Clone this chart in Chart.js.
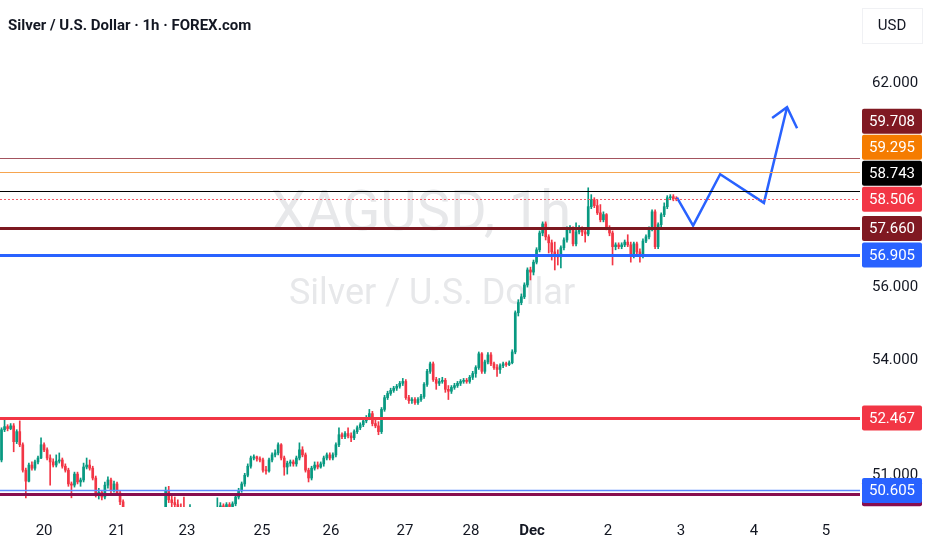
<!DOCTYPE html>
<html lang="en">
<head>
<meta charset="UTF-8">
<title>Silver / U.S. Dollar · 1h · FOREX.com</title>
<script src="https://cdn.jsdelivr.net/npm/chart.js"></script>
<style>
    html, body {
        margin: 0;
        padding: 0;
        background: #ffffff;
    }
    #wrap {
        width: 932px;
        height: 550px;
        position: relative;
    }
</style>
</head>
<body>
<div id="wrap"><canvas id="chart"></canvas></div>

<script>
// ---- data (1h candles, oldest first) ----
const firstOpen = 51.38;
const closes = [
    52.16, 52.24, 52.19, 52.26, 51.85, 52.11, 51.77, 51.12, 50.84, 51.25,
    51.17, 51.33, 51.43, 51.77, 51.64, 51.43, 51.33, 51.25, 51.35, 51.38,
    51.22, 51.12, 50.77, 50.74, 51.02, 50.82, 50.87, 51.20, 51.25, 51.17,
    50.92, 50.49, 50.56, 50.44, 50.74, 50.87, 50.61, 50.77, 50.54, 50.32,
    50.07, 49.87, 49.72, 49.62, 49.77, 49.67, 49.52, 49.62, 49.48, 49.57,
    49.38, 49.48, 49.62, 49.77, 50.61, 50.37, 50.30, 50.25, 50.17, 50.07,
    50.02, 49.87, 50.00, 49.82, 49.72, 49.62, 49.52, 49.62, 49.57, 49.72,
    49.87, 50.07, 50.22, 50.17, 50.25, 50.20, 50.27, 50.44, 50.61, 50.77,
    50.99, 51.22, 51.43, 51.46, 51.41, 51.38, 51.12, 51.10, 51.38, 51.51,
    51.56, 51.77, 51.43, 51.20, 51.30, 51.33, 51.28, 51.43, 51.64, 51.51,
    51.12, 50.92, 51.17, 51.25, 51.20, 51.28, 51.43, 51.51, 51.43, 51.51,
    51.77, 52.03, 51.98, 52.06, 52.00, 51.95, 52.11, 52.21, 52.29, 52.39,
    52.47, 52.58, 52.32, 52.26, 52.11, 52.69, 53.00, 53.11, 53.19, 53.25,
    53.30, 53.38, 53.43, 53.00, 52.92, 52.95, 52.87, 52.95, 53.03, 53.35,
    53.70, 53.90, 53.48, 53.38, 53.43, 53.46, 53.22, 53.17, 53.27, 53.32,
    53.38, 53.43, 53.46, 53.43, 53.54, 53.64, 53.80, 54.17, 53.70, 53.95,
    54.14, 53.90, 53.80, 53.75, 53.85, 53.90, 53.88, 53.93, 54.22, 55.29,
    55.57, 55.73, 56.06, 56.48, 56.42, 56.70, 57.05, 57.53, 57.79, 57.42,
    57.25, 56.99, 56.88, 56.85, 57.11, 57.33, 57.62, 57.65, 57.22, 57.56,
    57.65, 57.56, 57.50, 58.29, 58.49, 58.32, 58.11, 57.91, 58.06, 57.68,
    57.53, 57.14, 57.19, 57.14, 57.19, 57.27, 57.19, 56.88, 57.22, 56.99,
    56.88, 57.30, 57.42, 57.65, 58.14, 57.14, 57.77, 58.06, 58.29, 58.55,
    58.58, 58.52, 58.506
];
const highs = [
    52.21, 52.47, 52.29, 52.32, 52.32, 52.16, 52.39, 51.82, 51.17, 51.30,
    51.33, 51.38, 51.48, 51.95, 51.82, 51.69, 51.51, 51.41, 51.51, 51.56,
    51.43, 51.28, 51.17, 50.82, 51.07, 51.07, 50.92, 51.30, 51.43, 51.38,
    51.22, 50.97, 50.66, 50.61, 50.82, 50.95, 50.92, 50.84, 50.82, 50.61,
    50.37, 50.12, 49.97, 49.82, 49.87, 49.85, 49.72, 49.72, 49.67, 49.67,
    49.62, 49.62, 49.75, 49.92, 50.69, 50.71, 50.47, 50.44, 50.37, 50.27,
    50.44, 50.12, 50.25, 50.07, 49.92, 49.82, 49.72, 49.75, 49.77, 49.87,
    50.07, 50.42, 50.30, 50.27, 50.30, 50.30, 50.32, 50.49, 50.66, 50.82,
    51.04, 51.28, 51.48, 51.51, 51.48, 51.46, 51.43, 51.22, 51.43, 51.56,
    51.64, 51.82, 51.80, 51.48, 51.35, 51.38, 51.38, 51.48, 51.82, 51.72,
    51.56, 51.17, 51.22, 51.33, 51.33, 51.33, 51.48, 51.56, 51.56, 51.56,
    51.82, 52.21, 52.08, 52.11, 52.21, 52.08, 52.16, 52.26, 52.34, 52.45,
    52.53, 52.69, 52.64, 52.42, 52.37, 52.74, 53.06, 53.17, 53.25, 53.30,
    53.35, 53.43, 53.51, 53.48, 53.06, 53.00, 53.00, 53.00, 53.09, 53.40,
    53.75, 53.95, 53.95, 53.54, 53.51, 53.54, 53.51, 53.32, 53.32, 53.38,
    53.43, 53.48, 53.51, 53.51, 53.59, 53.70, 53.85, 54.22, 54.20, 54.00,
    54.20, 54.20, 53.95, 53.88, 53.90, 53.95, 53.95, 53.98, 54.28, 55.34,
    55.65, 55.81, 56.12, 56.54, 56.56, 56.76, 57.11, 57.59, 57.85, 57.85,
    57.48, 57.33, 57.27, 57.05, 57.16, 57.39, 57.71, 57.74, 57.71, 57.82,
    57.74, 57.71, 57.68, 58.84, 58.64, 58.55, 58.49, 58.35, 58.14, 58.09,
    57.74, 57.59, 57.25, 57.25, 57.25, 57.33, 57.48, 57.27, 57.27, 57.27,
    57.08, 57.36, 57.48, 57.71, 58.20, 58.20, 57.82, 58.11, 58.40, 58.61,
    58.64, 58.64, 58.58
];
const lows = [
    51.33, 52.11, 52.13, 52.16, 51.59, 51.80, 51.72, 51.07, 50.42, 50.82,
    51.12, 51.12, 51.28, 51.41, 51.59, 51.38, 50.74, 51.20, 51.20, 51.30,
    51.17, 51.07, 50.71, 50.42, 50.69, 50.77, 50.71, 50.82, 51.15, 51.12,
    50.87, 50.44, 50.39, 50.37, 50.39, 50.66, 50.54, 50.56, 50.49, 50.25,
    50.00, 49.77, 49.62, 49.48, 49.57, 49.55, 49.43, 49.38, 49.33, 49.43,
    49.23, 49.33, 49.38, 49.57, 49.72, 50.30, 50.12, 50.07, 50.00, 49.92,
    49.87, 49.77, 49.77, 49.72, 49.57, 49.48, 49.38, 49.43, 49.38, 49.48,
    49.62, 49.82, 50.02, 50.07, 50.12, 50.12, 50.15, 50.22, 50.39, 50.56,
    50.71, 50.95, 51.17, 51.38, 51.35, 51.33, 51.07, 51.02, 51.07, 51.33,
    51.46, 51.51, 51.38, 50.99, 51.02, 51.22, 51.22, 51.22, 51.38, 51.46,
    51.07, 50.82, 50.87, 51.12, 51.15, 51.17, 51.22, 51.38, 51.38, 51.38,
    51.46, 51.72, 51.93, 51.93, 51.95, 51.85, 51.90, 52.06, 52.16, 52.24,
    52.34, 52.42, 52.26, 52.21, 52.03, 52.06, 52.64, 52.95, 53.06, 53.14,
    53.19, 53.25, 53.32, 52.95, 52.85, 52.85, 52.82, 52.82, 52.90, 52.98,
    53.30, 53.64, 53.43, 53.22, 53.32, 53.38, 53.14, 52.95, 53.11, 53.22,
    53.27, 53.32, 53.38, 53.38, 53.38, 53.48, 53.54, 53.75, 53.64, 53.64,
    53.90, 53.85, 53.75, 53.56, 53.64, 53.80, 53.83, 53.85, 53.90, 54.17,
    55.20, 55.51, 55.68, 56.00, 56.20, 56.34, 56.65, 56.99, 57.45, 57.33,
    56.96, 56.76, 56.48, 56.62, 56.54, 57.05, 57.27, 57.53, 57.16, 57.16,
    57.50, 57.45, 57.27, 57.45, 58.23, 58.26, 58.06, 57.85, 57.85, 57.62,
    57.45, 56.62, 57.05, 57.08, 57.08, 57.14, 57.14, 56.70, 56.82, 56.93,
    56.70, 56.82, 57.25, 57.36, 57.59, 57.08, 57.08, 57.71, 58.00, 58.23,
    58.49, 58.46, 58.46
];

// day labels on the time axis (position in bar units)
const dayTickIdx = [14, 38, 61, 85.7, 108.4, 132.7, 154.4, 174.5, 199.5, 223.5, 247.5, 271.2];
const dayLabels = ['20', '21', '23', '25', '26', '27', '28', 'Dec', '2', '3', '4', '5'];
const priceTicks = [51, 54, 56, 62];

// drawn levels and their price tags
const levelPrices = [59.708, 59.295, 58.743, 58.506, 57.660, 56.905, 52.467, 50.605];
const hiddenLevel = 50.52;

// projected path + arrow head
const pathIdx = [222.2, 227.5, 236.4, 250.8, 258.4];
const pathPrice = [58.55, 57.74, 59.24, 58.40, 61.25];
const arrowIdx = [253.5, 258.4, 261.7];
const arrowPrice = [60.92, 61.25, 60.61];

// ---- styles ----
const UP = '#089981';
const DOWN = '#f23645';
const BLUE = '#2962ff';
const TEXT = '#131722';
const levelStyle = [
    { line: '#a3545e', box: '#801922', width: 1 },
    { line: '#f6a54f', box: '#f57c00', width: 1 },
    { line: '#000000', box: '#000000', width: 1 },
    { line: '#f45b68', box: '#f23645', width: 1, dash: [2, 2] },
    { line: '#7c1820', box: '#801922', width: 3 },
    { line: '#2962ff', box: '#2962ff', width: 3 },
    { line: '#f23645', box: '#f23645', width: 3 },
    { line: '#5b8bff', box: '#2962ff', width: 1.5 }
];
const hiddenStyle = { line: '#880e4f', box: '#880e4f', width: 3 };

// FX bars: each hour opens where the previous one closed
const opens = [firstOpen].concat(closes.slice(0, -1));
const candleColors = closes.map((c, i) => c >= opens[i] ? UP : DOWN);
const bodies = closes.map((c, i) => ({ x: i, y: [opens[i], c] }));
const wicks = closes.map((c, i) => ({
    x: i,
    y: [Math.min(lows[i], opens[i], c), Math.max(highs[i], opens[i], c)]
}));

const watermark = {
    id: 'watermark',
    beforeDatasetsDraw(chart) {
        const ctx = chart.ctx;
        ctx.save();
        ctx.fillStyle = '#e7e8ea';
        ctx.textAlign = 'center';
        ctx.textBaseline = 'middle';
        ctx.font = '56px Roboto';
        ctx.fillText('XAGUSD, 1h', 421, 216);
        ctx.font = '36px Roboto';
        ctx.fillText('Silver / U.S. Dollar', 432, 295);
        ctx.restore();
    }
};

const levels = {
    id: 'levels',
    afterDatasetsDraw(chart) {
        const ctx = chart.ctx;
        const area = chart.chartArea;
        const y = chart.scales.y;
        ctx.save();
        const all = levelPrices.map((v, i) => ({ v, s: levelStyle[i] })).concat([{ v: hiddenLevel, s: hiddenStyle }]);
        all.forEach(l => {
            const py = Math.round(y.getPixelForValue(l.v)) + (l.s.width % 2 ? 0.5 : 0);
            ctx.beginPath();
            ctx.setLineDash(l.s.dash || []);
            ctx.strokeStyle = l.s.line;
            ctx.lineWidth = l.s.width;
            ctx.moveTo(area.left, py);
            ctx.lineTo(area.right, py);
            ctx.stroke();
        });
        ctx.restore();
    },
    afterDraw(chart) {
        const ctx = chart.ctx;
        const y = chart.scales.y;
        const boxX = chart.chartArea.right + 2;
        const boxW = 60, boxH = 25;
        ctx.save();
        ctx.textAlign = 'center';
        ctx.textBaseline = 'middle';
        ctx.font = '15px Roboto';

        const drawBox = (cy, fill) => {
            ctx.fillStyle = fill;
            ctx.beginPath();
            ctx.roundRect(boxX, cy - boxH / 2, boxW, boxH, 2);
            ctx.fill();
        };

        // maroon tag sits under the 50.605 one, only its lower edge shows
        drawBox(y.getPixelForValue(hiddenLevel), hiddenStyle.box);

        // push tags up where they would overlap, starting from the lowest
        const tags = levelPrices.map((v, i) => ({ v, s: levelStyle[i], py: y.getPixelForValue(v) }));
        tags.sort((a, b) => b.py - a.py);
        let prev = Infinity;
        tags.forEach(t => {
            t.cy = Math.min(t.py, prev - 26);
            prev = t.cy;
        });
        tags.forEach(t => {
            drawBox(t.cy, t.s.box);
            ctx.fillStyle = '#ffffff';
            ctx.fillText(t.v.toFixed(3), boxX + boxW / 2, t.cy + 1);
        });

        // header texts
        ctx.textAlign = 'left';
        ctx.fillStyle = TEXT;
        ctx.font = 'bold 15px Roboto';
        ctx.fillText('Silver / U.S. Dollar · 1h · FOREX.com', 8, 26);
        ctx.strokeStyle = '#f0f1f4';
        ctx.lineWidth = 1;
        ctx.strokeRect(862.5, 8.5, 60, 35);
        ctx.textAlign = 'center';
        ctx.font = '15px Roboto';
        ctx.fillText('USD', 892, 26);
        ctx.restore();
    }
};

const chart = new Chart(document.getElementById('chart'), {
    type: 'bar',
    data: {
        datasets: [
            {
                type: 'line',
                data: pathIdx.map((x, i) => ({ x, y: pathPrice[i] })),
                borderColor: BLUE,
                borderWidth: 2.5,
                pointRadius: 0,
                tension: 0
            },
            {
                type: 'line',
                data: arrowIdx.map((x, i) => ({ x, y: arrowPrice[i] })),
                borderColor: BLUE,
                borderWidth: 2.5,
                pointRadius: 0,
                tension: 0
            },
            {
                data: bodies,
                backgroundColor: candleColors,
                barThickness: 2,
                minBarLength: 1,
                grouped: false
            },
            {
                data: wicks,
                backgroundColor: candleColors,
                barThickness: 1,
                grouped: false
            }
        ]
    },
    options: {
        responsive: true,
        maintainAspectRatio: false,
        animation: false,
        layout: { padding: 0 },
        plugins: {
            legend: { display: false },
            tooltip: { enabled: false }
        },
        scales: {
            x: {
                type: 'linear',
                min: -0.5,
                max: 282.4,
                offset: false,
                grid: { display: false, drawTicks: false },
                border: { display: false },
                ticks: {
                    autoSkip: false,
                    maxRotation: 0,
                    padding: 15,
                    color: TEXT,
                    font: ctx => ({ family: 'Roboto', size: 15, weight: dayLabels[ctx.index] === 'Dec' ? 'bold' : 'normal' }),
                    callback: v => dayLabels[dayTickIdx.indexOf(v)]
                },
                afterBuildTicks: s => { s.ticks = dayTickIdx.map(v => ({ value: v })); },
                afterFit: s => { s.height = 43; s.paddingLeft = 0; s.paddingRight = 0; }
            },
            y: {
                type: 'logarithmic',
                position: 'right',
                min: 50.19,
                max: 64.61,
                grid: { display: false, drawTicks: false },
                border: { display: false },
                ticks: {
                    padding: 12,
                    crossAlign: 'center',
                    color: TEXT,
                    font: { family: 'Roboto', size: 15 },
                    callback: v => Number(v).toFixed(3)
                },
                afterBuildTicks: s => { s.ticks = priceTicks.map(v => ({ value: v })); },
                afterFit: s => { s.width = 72; s.paddingTop = 0; s.paddingBottom = 0; }
            }
        }
    },
    plugins: [watermark, levels]
});
</script>
</body>
</html>
